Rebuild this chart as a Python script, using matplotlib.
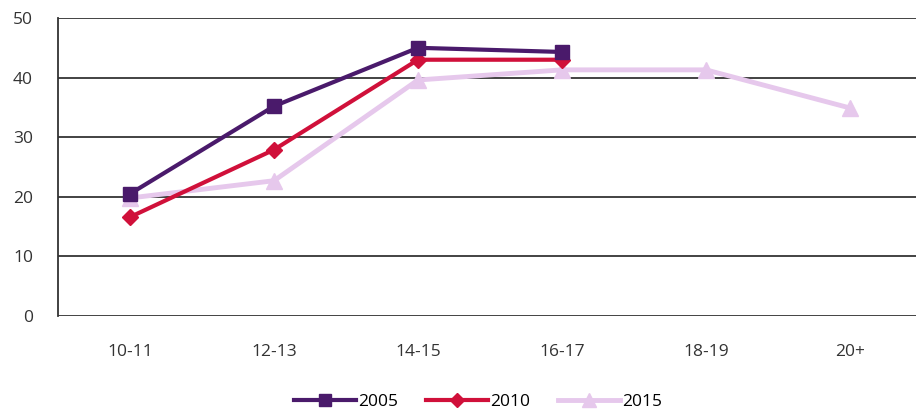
import matplotlib
matplotlib.use("Agg")
import matplotlib.pyplot as plt

# Daten
categories = ["10-11", "12-13", "14-15", "16-17", "18-19", "20+"]
s2005 = [20.5, 35.2, 45.0, 44.3]
s2010 = [16.6, 27.9, 43.0, 43.0]
s2015 = [19.8, 22.7, 39.6, 41.3, 41.3, 34.9]
y_ticks = [0, 10, 20, 30, 40, 50]

plt.rcParams["font.family"] = ["Open Sans", "DejaVu Sans"]

fig = plt.figure(figsize=(9.16, 4.12), dpi=100)
# Achse reicht rechts leicht ueber den Bildrand hinaus (wie im Original)
ax = fig.add_axes([58 / 916, (412 - 316) / 412, 864 / 916, 298 / 412])

x = list(range(len(categories)))

ax.plot(x, s2015, color="#e6c8ec", lw=3.5, marker="^", ms=11, label="2015", zorder=3)
ax.plot(x[:len(s2010)], s2010, color="#d0103a", lw=3, marker="D", ms=8, label="2010", zorder=4)
ax.plot(x[:len(s2005)], s2005, color="#4a1a6b", lw=3, marker="s", ms=10, label="2005", zorder=5)

ax.set_xlim(-0.5, len(categories) - 0.5)
ax.set_ylim(0, 50)
ax.set_yticks(y_ticks)
ax.set_xticks(x)
ax.set_xticklabels(categories)
ax.tick_params(length=0, labelsize=12.5, colors="#333333")
ax.tick_params(axis="x", pad=20)
ax.tick_params(axis="y", pad=18)

for t in y_ticks:
    ax.axhline(t, color="#222222", lw=1.2, zorder=1)

for side in ["top", "right", "bottom"]:
    ax.spines[side].set_visible(False)
ax.spines["left"].set_color("#333333")
ax.spines["left"].set_linewidth(1.3)

handles, labels = ax.get_legend_handles_labels()
order = [2, 1, 0]
fig.legend([handles[i] for i in order], [labels[i] for i in order],
           loc="center", bbox_to_anchor=(478 / 916, 1 - 402 / 412),
           ncol=3, frameon=False, fontsize=12.5, handlelength=3.6,
           handletextpad=0.1, columnspacing=1.6, markerscale=0.9)

fig.savefig("out.png", dpi=100)
